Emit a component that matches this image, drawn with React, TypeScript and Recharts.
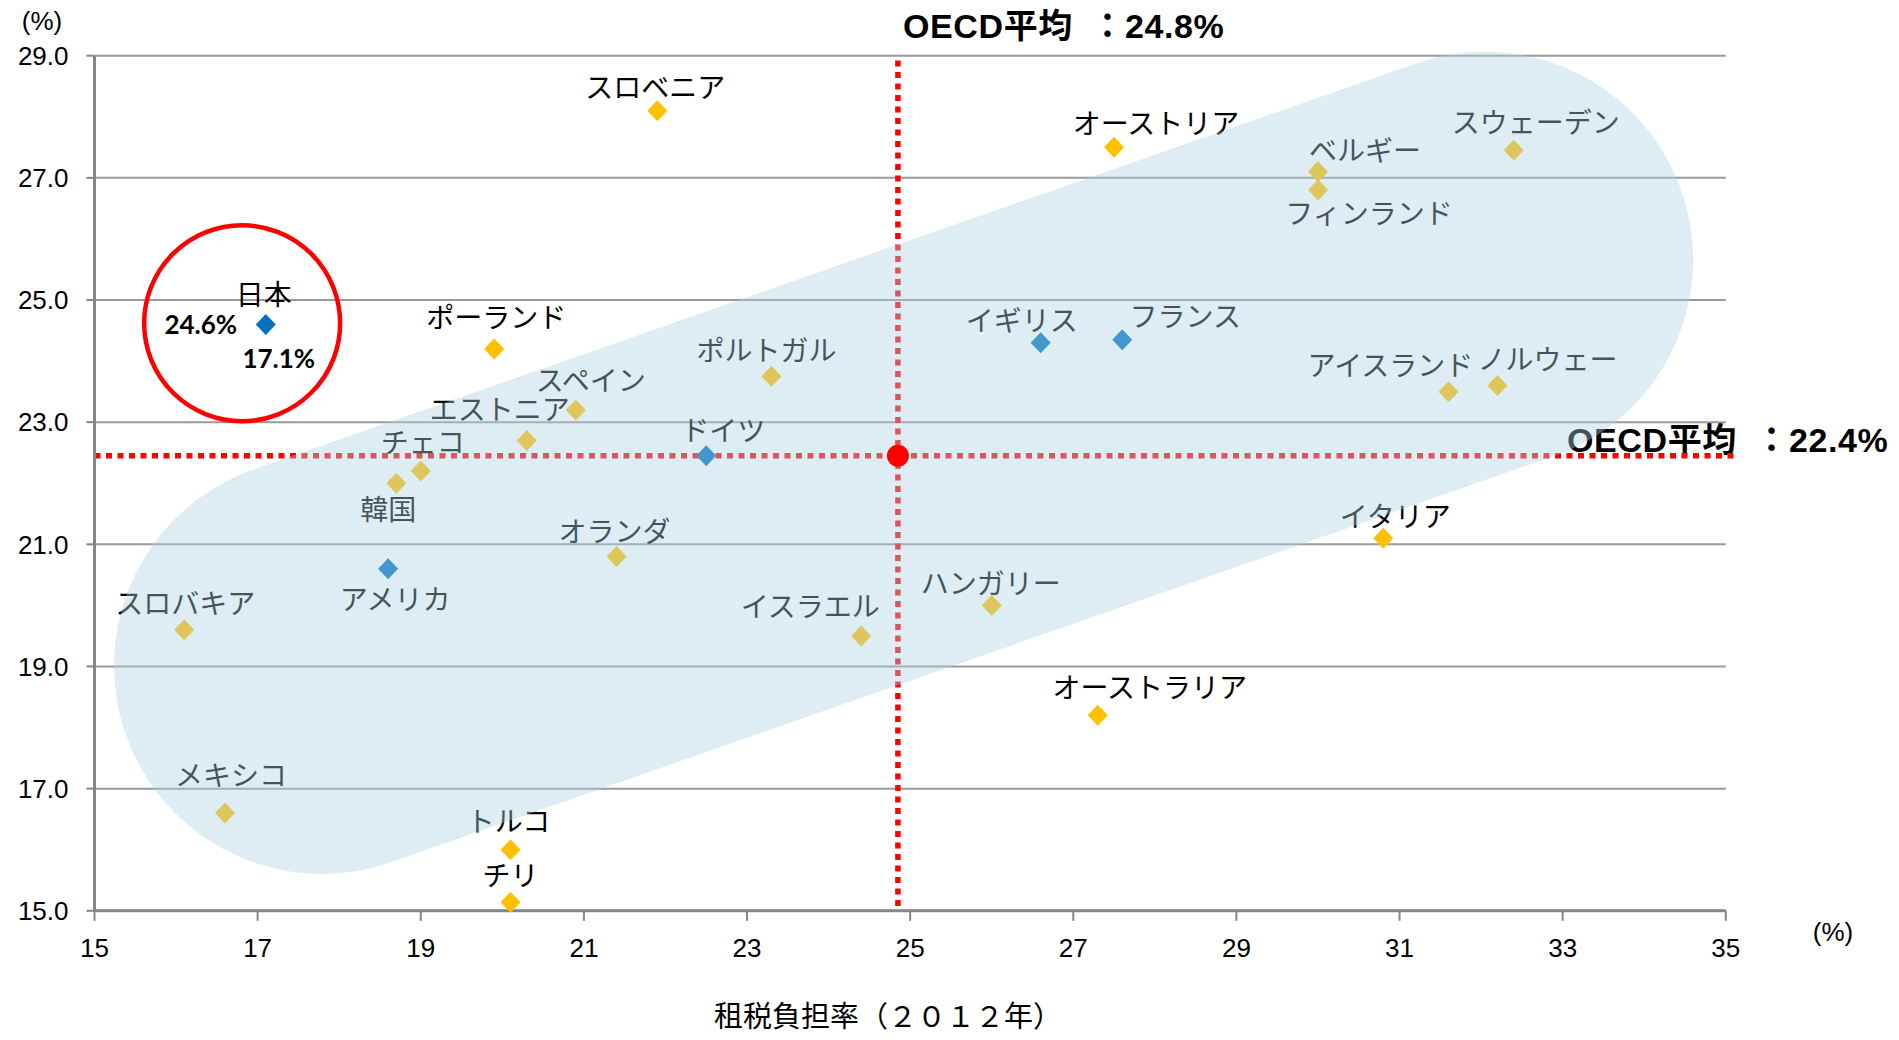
import {
  CartesianGrid,
  ReferenceDot,
  ReferenceLine,
  Scatter,
  ScatterChart,
  XAxis,
  YAxis,
} from "recharts";

// countries and their two burden rates (2012)
const countries = [
  "日本", "スロベニア", "オーストリア", "ベルギー", "フィンランド", "スウェーデン",
  "ポーランド", "スペイン", "エストニア", "チェコ", "韓国", "アメリカ",
  "スロバキア", "メキシコ", "トルコ", "チリ", "オランダ", "ドイツ",
  "ポルトガル", "イスラエル", "ハンガリー", "イギリス", "フランス", "オーストラリア",
  "アイスランド", "ノルウェー", "イタリア",
];
const taxBurden = [
  17.1, 21.9, 27.5, 30.0, 30.0, 32.4,
  19.9, 20.9, 20.3, 19.0, 18.7, 18.6,
  16.1, 16.6, 20.1, 20.1, 21.4, 22.5,
  23.3, 24.4, 26.0, 26.6, 27.6, 27.3,
  31.6, 32.2, 30.8,
];
const yBurden = [
  24.6, 28.1, 27.5, 27.1, 26.8, 27.45,
  24.2, 23.2, 22.7, 22.2, 22.0, 20.6,
  19.6, 16.6, 16.0, 15.14, 20.8, 22.45,
  23.75, 19.5, 20.0, 24.3, 24.35, 18.2,
  23.5, 23.6, 21.1,
];
const blueCountries = ["日本", "アメリカ", "ドイツ", "イギリス", "フランス"];

const xTicks = [15, 17, 19, 21, 23, 25, 27, 29, 31, 33, 35];
const yTicks = [15, 17, 19, 21, 23, 25, 27, 29];

const oecdAvgX = 24.85;
const oecdAvgY = 22.45;
const oecdLabelX = "24.8%";
const oecdLabelY = "22.4%";

// annotation shapes, in data units
const capsuleEnds = [
  { x: 17.79, y: 19.01 },
  { x: 32.05, y: 25.66 },
];
const japanCircle = { x: 16.81, y: 24.62 };

// label placement (px offset of label centre from the point)
const labelOffsets: Record<string, [number, number]> = {
  日本: [-2, -31],
  スロベニア: [-2, -25],
  オーストリア: [42, -25],
  ベルギー: [47, -23],
  フィンランド: [51, 22],
  スウェーデン: [22, -29],
  ポーランド: [2, -33],
  スペイン: [15, -31],
  エストニア: [-27, -32],
  チェコ: [2, -30],
  韓国: [-8, 25],
  アメリカ: [7, 29],
  スロバキア: [1, -28],
  メキシコ: [6, -39],
  トルコ: [-2, -30],
  チリ: [0, -28],
  オランダ: [-2, -27],
  ドイツ: [17, -27],
  ポルトガル: [-5, -27],
  イスラエル: [-51, -31],
  ハンガリー: [-1, -23],
  イギリス: [-19, -24],
  フランス: [63, -25],
  オーストラリア: [52, -29],
  アイスランド: [-58, -28],
  ノルウェー: [50, -28],
  イタリア: [12, -23],
};

const countryData = countries.map((name, i) => ({
  name,
  x: taxBurden[i],
  y: yBurden[i],
}));

const JP_FONT = '"Noto Sans CJK JP", sans-serif';
const LATIN_FONT = '"Liberation Sans", Arial, "Noto Sans CJK JP", sans-serif';
const GOLD = "#FFC000";
const BLUE = "#0070C0";
const AXIS_GREY = "#868686";

function CountryPoint(props: any) {
  const { cx, cy, payload } = props;
  const [dx, dy] = labelOffsets[payload.name] ?? [0, -28];
  const color = blueCountries.includes(payload.name) ? BLUE : GOLD;
  return (
    <g>
      <polygon
        points={`${cx},${cy - 10.5} ${cx + 10},${cy} ${cx},${cy + 10.5} ${cx - 10},${cy}`}
        fill={color}
      />
      <text
        x={cx + dx}
        y={cy + dy}
        textAnchor="middle"
        dominantBaseline="central"
        fontSize={28}
        fontFamily={JP_FONT}
        fill="#000"
      >
        {payload.name}
      </text>
      {payload.name === "日本" && (
        <>
          <text
            x={cx - 65}
            y={cy}
            textAnchor="middle"
            dominantBaseline="central"
            fontSize={26}
            fontWeight="bold"
            fontFamily="Lato, sans-serif"
            fill="#000"
          >
            {payload.y.toFixed(1)}%
          </text>
          <text
            x={cx + 13}
            y={cy + 34}
            textAnchor="middle"
            dominantBaseline="central"
            fontSize={26}
            fontWeight="bold"
            fontFamily="Lato, sans-serif"
            fill="#000"
          >
            {payload.x.toFixed(1)}%
          </text>
        </>
      )}
    </g>
  );
}

const centred = (left: number, top: number): React.CSSProperties => ({
  position: "absolute",
  left,
  top,
  transform: "translate(-50%, -50%)",
  whiteSpace: "pre",
  lineHeight: 1,
  color: "#000",
});

const oecdStyle = (left: number, top: number): React.CSSProperties => ({
  position: "absolute",
  left,
  top,
  fontFamily: LATIN_FONT,
  fontSize: 34,
  fontWeight: "bold",
  letterSpacing: 0.6,
  whiteSpace: "pre",
  lineHeight: 1,
});

export default function App() {
  return (
    <div
      style={{
        position: "absolute",
        left: 0,
        top: 0,
        width: 1899,
        height: 1040,
        background: "#fff",
        overflow: "hidden",
      }}
    >
      <div style={{ ...centred(42, 21), fontFamily: LATIN_FONT, fontSize: 26 }}>(%)</div>
      <div style={{ ...centred(1833, 932), fontFamily: LATIN_FONT, fontSize: 26 }}>(%)</div>
      <div style={{ ...centred(888, 1014), fontFamily: JP_FONT, fontSize: 29 }}>
        租税負担率（２０１２年）
      </div>
      <div style={oecdStyle(903, 9)}>{`OECD平均\u2002：${oecdLabelX}`}</div>
      <div style={oecdStyle(1567, 423)}>{`OECD平均\u2002：${oecdLabelY}`}</div>

      <div style={{ position: "absolute", left: 0, top: 0 }}>
        <ScatterChart
          width={1899}
          height={1040}
          margin={{ top: 55.7, right: 173.2, bottom: 69.2, left: 0 }}
        >
          <CartesianGrid
            horizontal
            vertical={false}
            stroke="#9A9A9A"
            strokeWidth={2}
          />
          <XAxis
            type="number"
            dataKey="x"
            domain={[15, 35]}
            ticks={xTicks}
            interval={0}
            height={60}
            tickSize={10}
            tickMargin={18}
            axisLine={{ stroke: AXIS_GREY, strokeWidth: 3 }}
            tickLine={{ stroke: AXIS_GREY, strokeWidth: 2 }}
            tick={{ fill: "#000", fontSize: 26, fontFamily: LATIN_FONT }}
          />
          <YAxis
            type="number"
            dataKey="y"
            domain={[15, 29]}
            ticks={yTicks}
            interval={0}
            width={94.5}
            tickSize={8}
            tickMargin={18}
            tickFormatter={(v: number) => v.toFixed(1)}
            axisLine={{ stroke: AXIS_GREY, strokeWidth: 3 }}
            tickLine={{ stroke: AXIS_GREY, strokeWidth: 2 }}
            tick={{ fill: "#000", fontSize: 26, fontFamily: LATIN_FONT }}
          />
          <ReferenceLine
            segment={[
              { x: 15, y: oecdAvgY },
              { x: 35.15, y: oecdAvgY },
            ]}
            stroke="#FF0000"
            strokeWidth={5.5}
            strokeDasharray="6 5.5"
            ifOverflow="visible"
          />
          <ReferenceLine
            segment={[
              { x: oecdAvgX, y: 15.08 },
              { x: oecdAvgX, y: 28.97 },
            ]}
            stroke="#FF0000"
            strokeWidth={5.5}
            strokeDasharray="6 5.5"
            ifOverflow="visible"
          />
          <ReferenceDot
            x={japanCircle.x}
            y={japanCircle.y}
            r={98}
            fill="none"
            stroke="#FF0000"
            strokeWidth={4.5}
          />
          <Scatter
            data={countryData}
            shape={CountryPoint}
            isAnimationActive={false}
          />
          <Scatter
            data={capsuleEnds}
            shape={() => <g />}
            line={{
              stroke: "#A9D2E2",
              strokeOpacity: 0.4,
              strokeWidth: 416,
              strokeLinecap: "round",
            }}
            isAnimationActive={false}
          />
          <Scatter
            data={[{ x: oecdAvgX, y: oecdAvgY }]}
            fill="#FF0000"
            shape={(p: any) => <circle cx={p.cx} cy={p.cy} r={11} fill="#FF0000" />}
            isAnimationActive={false}
          />
        </ScatterChart>
      </div>
    </div>
  );
}
